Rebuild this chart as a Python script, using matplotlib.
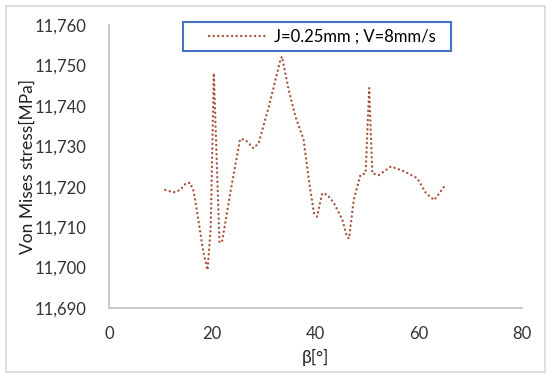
import matplotlib.pyplot as plt
from matplotlib.patches import Rectangle
from matplotlib.ticker import FuncFormatter

# values
beta = [10.9, 12.5, 13.8, 14.8, 15.7, 16.4, 17.3, 18.3, 19.1, 19.7, 20.3, 21.4, 21.9,
        23.5, 25.4, 26.4, 28.0, 29.0, 31.0, 33.2, 33.5, 34.8, 36.1, 37.7, 38.7, 39.7,
        40.3, 41.3, 42.3, 43.6, 45.2, 46.1, 46.5, 47.4, 48.7, 49.7, 50.4, 51.0, 52.3,
        54.6, 57.2, 59.7, 61.4, 63.0, 64.9]
stress = [11719.2, 11718.6, 11719.2, 11720.7, 11721.0, 11718.9, 11711.8, 11703.6, 11699.4,
          11710.0, 11748.1, 11706.2, 11706.4, 11718.5, 11731.8, 11731.6, 11729.5, 11730.8,
          11740.0, 11751.4, 11752.2, 11744.0, 11737.4, 11731.6, 11721.7, 11713.4,
          11712.6, 11718.4, 11718.0, 11715.9, 11711.8, 11707.6, 11707.2, 11716.7,
          11722.9, 11723.3, 11744.4, 11723.3, 11722.9, 11725.0, 11723.8, 11722.1,
          11718.4, 11716.7, 11720.0]
series_label = 'J=0.25mm ; V=8mm/s'

plt.rcParams['font.family'] = ['Lato', 'DejaVu Sans']

fig = plt.figure(figsize=(5.5, 3.77), dpi=100)
ax = fig.add_axes([109 / 550, 69 / 377, 413 / 550, 283 / 377])

# small round dots like Excel's "round dot" line
ax.plot(beta, stress, color='#A9503A', linestyle=(0, (0.05, 1.9)), linewidth=1.7,
        dash_capstyle='round', solid_capstyle='round', label=series_label)

ax.set_xlim(0, 80)
ax.set_ylim(11690, 11760)
ax.set_xticks([0, 20, 40, 60, 80])
ax.set_yticks(range(11690, 11761, 10))
ax.yaxis.set_major_formatter(FuncFormatter(lambda v, p: f'{int(v):,}'))
ax.tick_params(length=0, labelsize=12, colors='#333333')
ax.tick_params(axis='y', pad=16)
ax.tick_params(axis='x', pad=13)

for s in ['top', 'right']:
    ax.spines[s].set_visible(False)
for s in ['left', 'bottom']:
    ax.spines[s].set_color('#BFBFBF')
    ax.spines[s].set_linewidth(1.2)

ax.set_ylabel('Von Mises stress[MPa]', fontsize=12.5, color='#222222', labelpad=-1)
ax.set_xlabel('β[°]', fontsize=12.5, color='#222222', labelpad=5)

leg = ax.legend(loc='center', bbox_to_anchor=(0.516, 0.959), fontsize=12,
                frameon=False, handlelength=3.5, handletextpad=0.4)

# legend frame drawn by hand so it can be wider than the entry
fig.patches.append(Rectangle((183 / 550, (377 - 51) / 377), 268 / 550, 29 / 377,
                             transform=fig.transFigure, fill=False,
                             edgecolor='#4472C4', linewidth=1.5, zorder=5))

fig.patches.append(Rectangle((6 / 550, 5 / 377), 539 / 550, 366 / 377,
                             transform=fig.transFigure, fill=False,
                             edgecolor='#D9D9D9', linewidth=1.2))

fig.savefig('out.png', dpi=100)
